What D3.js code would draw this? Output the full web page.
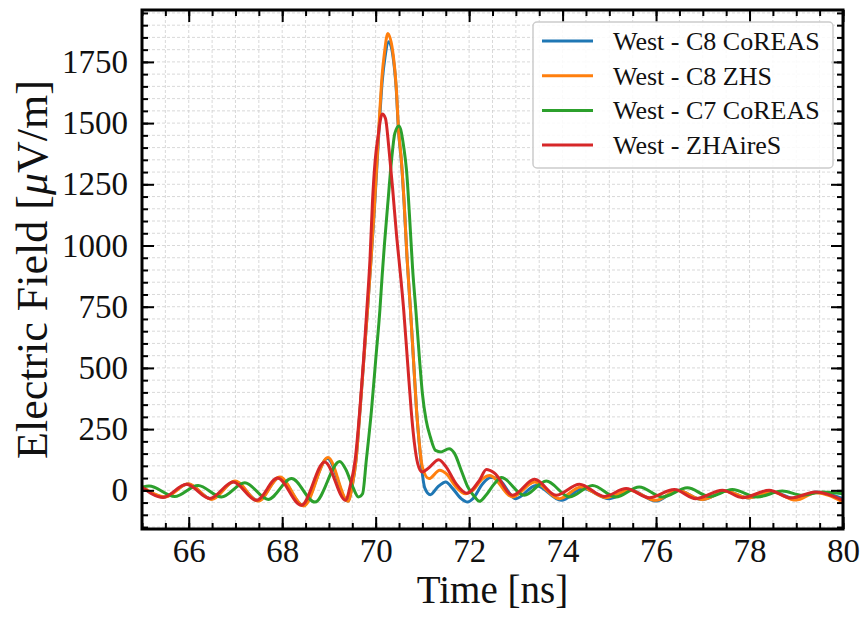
<!DOCTYPE html>
<html><head><meta charset="utf-8">
<script src="https://cdn.jsdelivr.net/npm/d3@7/dist/d3.min.js"></script>
<style>
body{margin:0;background:#fff;}
text{font-family:"Liberation Serif","Times New Roman",serif;fill:#111;}
</style></head>
<body>
<svg id="chart" width="864" height="623"></svg>
<script>
// ---- data (time in ns, field in µV/m) ----
const seriesNames = ["West - C8 CoREAS", "West - C8 ZHS", "West - C7 CoREAS", "West - ZHAireS"];
const seriesColors = ["#1f77b4", "#ff7f0e", "#2ca02c", "#d62728"];

const westC8CoREAS = [[65.00,14],[65.48,-27],[65.98,26],[66.48,-35],[66.98,36],[67.48,-42],[67.94,52],[68.45,-62],[68.97,130],[69.40,-44],[69.50,20],[69.58,123],[69.665,327],[69.745,531],[69.825,736],[69.90,940],[69.97,1140],[70.03,1335],[70.08,1500],[70.14,1670],[70.20,1770],[70.28,1832],[70.38,1760],[70.44,1640],[70.49,1465],[70.55,1345],[70.61,1170],[70.67,955],[70.745,736],[70.81,531],[70.875,327],[70.94,175],[71.05,10],[71.17,-18],[71.33,14],[71.50,34],[71.65,7],[71.83,-34],[71.97,-48],[72.08,-34],[72.29,27],[72.46,52],[72.61,48],[73.00,-34],[73.43,20],[73.97,-41],[74.43,7],[75.00,-34],[75.46,0],[76.00,-44],[76.46,0],[76.99,-38],[77.49,-4],[77.99,-31],[78.49,-7],[78.99,-34],[79.42,-7],[80.00,-34]];

const westC8ZHS = [[65.00,16],[65.50,-27],[65.99,27],[66.49,-37],[66.99,38],[67.49,-44],[67.95,54],[68.46,-64],[68.98,134],[69.41,-45],[69.50,20],[69.58,123],[69.665,327],[69.745,531],[69.825,736],[69.90,940],[69.97,1150],[70.03,1350],[70.08,1520],[70.14,1700],[70.19,1790],[70.26,1866],[70.38,1771],[70.44,1648],[70.49,1471],[70.55,1349],[70.61,1172],[70.67,955],[70.745,736],[70.81,531],[70.875,327],[70.935,191],[71.00,95],[71.14,48],[71.37,82],[71.51,68],[71.72,14],[71.92,-14],[72.08,0],[72.29,48],[72.44,61],[72.93,-27],[73.40,34],[73.93,-34],[74.39,14],[74.93,-30],[75.43,0],[76.00,-41],[76.46,0],[76.99,-38],[77.49,-4],[77.99,-31],[78.49,-7],[78.99,-40],[79.42,-10],[80.00,-48]];

const westC7CoREAS = [[65.00,12],[65.15,18],[65.70,-25],[66.20,20],[66.70,-27],[67.20,31],[67.70,-37],[68.20,48],[68.70,-48],[69.23,118],[69.37,82],[69.51,14],[69.63,-27],[69.72,-14],[69.80,123],[69.91,327],[70.00,531],[70.09,736],[70.14,880],[70.19,1010],[70.26,1172],[70.34,1349],[70.41,1458],[70.50,1488],[70.60,1403],[70.66,1308],[70.73,1103],[70.79,906],[70.86,736],[70.94,531],[71.00,395],[71.08,286],[71.17,218],[71.28,163],[71.40,157],[71.57,170],[71.69,150],[71.83,82],[71.97,14],[72.12,-27],[72.22,-45],[72.36,-20],[72.54,27],[72.69,52],[73.18,-20],[73.65,38],[74.15,-27],[74.64,20],[75.14,-27],[75.64,14],[76.14,-27],[76.67,10],[77.14,-25],[77.63,3],[78.17,-27],[78.70,-3],[79.13,-20],[79.56,-7],[80.00,-14]];

const westZHAireS = [[65.00,13],[65.45,-29],[65.95,25],[66.45,-33],[66.95,34],[67.45,-41],[67.90,50],[68.41,-61],[68.91,116],[69.36,-41],[69.45,14],[69.56,123],[69.66,327],[69.74,531],[69.81,736],[69.88,950],[69.93,1172],[69.99,1349],[70.05,1444],[70.14,1537],[70.21,1519],[70.28,1403],[70.36,1239],[70.45,1035],[70.50,940],[70.60,736],[70.68,531],[70.76,327],[70.83,191],[70.90,109],[70.99,75],[71.12,89],[71.35,125],[71.51,95],[71.72,27],[71.95,-12],[72.22,41],[72.37,85],[72.54,71],[72.93,-20],[73.40,45],[73.86,-20],[74.36,25],[74.89,-25],[75.36,7],[75.85,-30],[76.39,3],[76.85,-34],[77.42,0],[77.85,-30],[78.42,0],[78.88,-31],[79.42,-7],[80.00,-41]];

const seriesData = [westC8CoREAS, westC8ZHS, westC7CoREAS, westZHAireS];

const xDomain = [65, 80];
const yDomain = [-158, 1962];
const xMajorTicks = [66, 68, 70, 72, 74, 76, 78, 80];
const yMajorTicks = [0, 250, 500, 750, 1000, 1250, 1500, 1750];
const xLabel = "Time [ns]";

// ---- layout ----
const L = 142, R = 843, T = 10, B = 529;
const svg = d3.select("#chart");
const x = d3.scaleLinear().domain(xDomain).range([L, R]);
const y = d3.scaleLinear().domain(yDomain).range([B, T]);

const xMinor = d3.range(65, 80.001, 0.5);
const yMinor = d3.range(-150, 1960, 50);

// grid
const grid = svg.append("g");
grid.selectAll("line.gx").data(xMinor).join("line")
  .attr("x1", d => x(d)).attr("x2", d => x(d)).attr("y1", T).attr("y2", B)
  .attr("stroke", "#cfcfcf").attr("stroke-width", 0.8).attr("stroke-dasharray", "3,2");
grid.selectAll("line.gy").data(yMinor).join("line")
  .attr("y1", d => y(d)).attr("y2", d => y(d)).attr("x1", L).attr("x2", R)
  .attr("stroke", "#cfcfcf").attr("stroke-width", 0.8).attr("stroke-dasharray", "3,2");

// lines
svg.append("clipPath").attr("id", "clip").append("rect")
  .attr("x", L).attr("y", T).attr("width", R - L).attr("height", B - T);
const line = d3.line().x(d => x(d[0])).y(d => y(d[1])).curve(d3.curveMonotoneX);
const lines = svg.append("g").attr("clip-path", "url(#clip)");
seriesData.forEach((s, i) => {
  lines.append("path").datum(s).attr("d", line)
    .attr("fill", "none").attr("stroke", seriesColors[i])
    .attr("stroke-width", 3).attr("stroke-linejoin", "round").attr("stroke-linecap", "round");
});

// axes (ticks inward, on all sides)
function styleAxis(g) {
  g.select(".domain").remove();
  g.selectAll(".tick line").attr("stroke", "#000").attr("stroke-width", 2);
}
const fmt = d3.format("d");
svg.append("g").attr("transform", `translate(0,${B})`)
  .call(d3.axisBottom(x).tickValues(xMinor).tickSize(-6).tickFormat("")).call(styleAxis);
svg.append("g").attr("transform", `translate(0,${B})`)
  .call(d3.axisBottom(x).tickValues(xMajorTicks).tickSize(-12).tickPadding(10).tickFormat(fmt)).call(styleAxis)
  .selectAll("text").attr("font-size", 33).attr("font-family", "Liberation Serif").attr("fill", "#111");
svg.append("g").attr("transform", `translate(0,${T})`)
  .call(d3.axisTop(x).tickValues(xMinor).tickSize(-6).tickFormat("")).call(styleAxis);
svg.append("g").attr("transform", `translate(0,${T})`)
  .call(d3.axisTop(x).tickValues(xMajorTicks).tickSize(-12).tickFormat("")).call(styleAxis);

svg.append("g").attr("transform", `translate(${L},0)`)
  .call(d3.axisLeft(y).tickValues(yMinor).tickSize(-6).tickFormat("")).call(styleAxis);
svg.append("g").attr("transform", `translate(${L},0)`)
  .call(d3.axisLeft(y).tickValues(yMajorTicks).tickSize(-12).tickPadding(14).tickFormat(fmt)).call(styleAxis)
  .selectAll("text").attr("font-size", 33).attr("font-family", "Liberation Serif").attr("fill", "#111");
svg.append("g").attr("transform", `translate(${R},0)`)
  .call(d3.axisRight(y).tickValues(yMinor).tickSize(-6).tickFormat("")).call(styleAxis);
svg.append("g").attr("transform", `translate(${R},0)`)
  .call(d3.axisRight(y).tickValues(yMajorTicks).tickSize(-12).tickFormat("")).call(styleAxis);

// frame
svg.append("rect").attr("x", L).attr("y", T).attr("width", R - L).attr("height", B - T)
  .attr("fill", "none").attr("stroke", "#000").attr("stroke-width", 3);

// axis labels
svg.append("text").attr("x", (L + R) / 2).attr("y", 603).attr("text-anchor", "middle")
  .attr("font-size", 39).text(xLabel);
const yl = svg.append("text").attr("transform", `translate(47,${(T + B) / 2}) rotate(-90)`)
  .attr("text-anchor", "middle").attr("font-size", 44);
yl.append("tspan").text("Electric Field [");
yl.append("tspan").attr("font-style", "italic").text("\u03BC");
yl.append("tspan").text("V/m]");

// legend
const lg = svg.append("g");
lg.append("rect").attr("x", 533).attr("y", 22).attr("width", 300).attr("height", 146)
  .attr("rx", 4).attr("fill", "#fff").attr("fill-opacity", 0.85)
  .attr("stroke", "#cccccc").attr("stroke-width", 1.5);
seriesNames.forEach((n, i) => {
  const cy = 41 + i * 34.7;
  lg.append("line").attr("x1", 542).attr("x2", 593).attr("y1", cy).attr("y2", cy)
    .attr("stroke", seriesColors[i]).attr("stroke-width", 3);
  lg.append("text").attr("x", 613).attr("y", cy + 9).attr("font-size", 26).text(n);
});
</script>
</body></html>
